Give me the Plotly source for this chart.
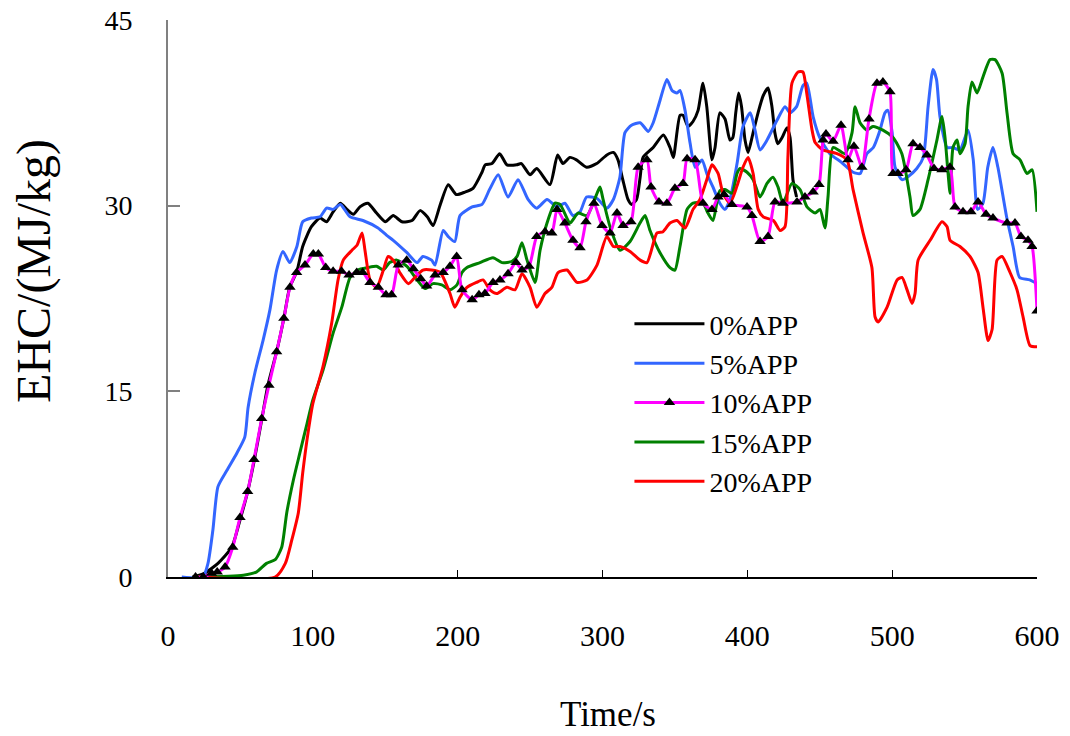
import plotly.graph_objects as go

# EHC curves, (time s, EHC MJ/kg)
app0 = [(17, 0), (25, 0.3), (34.5, 1.1), (44, 2.4), (49.7, 4.6), (55, 6.9), (59.5, 9.4), (64.7, 12.7),
        (69, 15.5), (75, 18.2), (80, 20.9), (84, 23.4), (89, 24.7), (93, 26.7), (99, 28.3), (105, 29),
        (109.5, 28.7), (114, 29.5), (119, 30.2), (123.5, 29.7), (128, 29.3), (132.5, 29.9), (138, 30.2),
        (144, 29.4), (150, 28.7), (155.5, 29.2), (161.5, 28.7), (168.5, 28.8), (174, 29.6), (179, 29.1),
        (183, 28.4), (188, 30.1), (193.5, 31.7), (199, 30.9), (205, 31.1), (210.6, 31.4), (216.8, 32.7),
        (219, 33.3), (223.7, 33.4), (229, 34.2), (234, 33.3), (240.8, 33.3), (244, 33.4), (250, 32.5),
        (254.6, 33), (263.7, 31.7), (269, 34.1), (272.7, 33.4), (277.5, 33.9), (282, 33.7), (289, 33.1),
        (296, 33.4), (303, 34.1), (307.5, 34.3), (310.7, 33.7), (314, 32.1), (317.6, 30.5), (320, 30.1),
        (323.5, 30.5), (326, 32.3), (328, 33.9), (335, 34.7), (342, 35.7), (346.6, 34.7), (348.9, 33.9),
        (353.5, 37.3), (355.6, 37.3), (359, 36.4), (362.5, 36.8), (366, 37.7), (369.4, 39.9), (372, 38),
        (375.6, 33.7), (377.7, 34.7), (381, 37.5), (384.6, 37.0), (388, 35.3), (390, 35.5), (392, 37.5),
        (394, 39.1), (396, 38), (398.4, 35.3), (400.5, 34.3), (404, 35.9), (407.4, 37.5), (411, 38.9),
        (414.3, 39.5), (417, 38), (419, 35.9), (421, 35), (424, 35.5), (427.4, 36.3), (429.5, 35.5),
        (431.5, 32.1), (434, 30.7)]

app5 = [(9.5, 0), (24, 0), (27.6, 1.1), (31, 3.8), (34.5, 7.3), (40.6, 8.6), (47.5, 10), (53, 11.3),
        (55.3, 13.7), (60, 16.5), (65.6, 19.1), (70.4, 21.6), (75, 24.8), (79.4, 26.3), (84, 25.4),
        (89, 26.7), (93, 28.7), (99, 29), (105, 29.1), (109.5, 29.8), (114, 29.7), (119, 30.1),
        (125.7, 29.1), (134.6, 28.8), (145, 28.2), (151, 27.6), (155.5, 27.2), (165, 26.2), (172, 25.4),
        (176, 25.9), (182, 25.6), (184.4, 25.2), (190, 28), (193.5, 27.5), (198, 27.1), (201.6, 29.2),
        (210, 29.9), (216.8, 30.1), (222, 31.3), (228, 32.5), (234.8, 30.7), (241.7, 32.1), (248.6, 30.5),
        (254.6, 29.8), (261.7, 30.5), (268.6, 29.9), (274, 30.2), (279.6, 29.2), (284.5, 29.5), (289, 30.7),
        (296, 30.6), (303, 29.8), (307.5, 30.5), (312, 32.3), (315.5, 35.9), (320, 36.5), (326, 36.7),
        (331.6, 36), (335, 36.7), (339.7, 38.5), (344.5, 40.2), (348, 39.3), (351.4, 39.1), (353.5, 39.3),
        (357, 37.7), (360.4, 35.1), (364, 33.1), (368.7, 33.7), (372, 32.6), (376.3, 31.5), (381, 30.2),
        (384.6, 29.7), (388, 30.5), (392.9, 33.4), (397, 36.4), (402, 37.5), (405.3, 36.1), (408.8, 34.5),
        (413.6, 35.3), (420.5, 36.9), (426, 38), (429.5, 37.5), (434, 38), (438.4, 39.7), (441, 39.9),
        (445.4, 37.2), (450, 35.5), (457, 34.2), (465, 33.5), (473, 32.7), (478, 32.6), (482.5, 34.2),
        (487, 34.7), (491.6, 36.1), (495, 37.5), (497, 37.7), (500, 35.9), (502, 33.1), (506.8, 32.1),
        (510.5, 32.3), (517, 33), (521.5, 33.9), (524.8, 38), (528.2, 41), (530.6, 40.2), (533, 37.2),
        (537.9, 34.7), (542, 34.7), (546.8, 34.5), (552.4, 36.1), (556, 33.7), (559, 29.7), (562.7, 30.2),
        (566, 33.1), (569.6, 34.7), (573, 33.1), (579, 29.1), (583.5, 26.7), (588, 24.2), (595, 24),
        (600, 23.7)]

app10 = [(19, 0), (24.4, 0), (30, 0.3), (34, 0.4), (39.4, 0.8), (44.7, 2.4), (49.7, 4.8), (55, 6.9),
         (59.4, 9.5), (64.7, 12.8), (69.7, 15.5), (75, 18.2), (80, 20.9), (84.2, 23.4), (88.8, 24.6),
         (94.6, 25.2), (100.3, 26.1), (103.8, 26.1), (108.9, 25), (114, 24.7), (119.8, 24.7), (125, 24.4),
         (130.3, 24.6), (134.4, 24.6), (139.5, 23.8), (145.2, 23.4), (150.5, 22.8), (154.4, 22.8),
         (159, 25.2), (164.8, 25.6), (169.4, 24.9), (174.5, 24.1), (178.6, 23.5), (184.4, 24.4), (190, 24.6),
         (194.7, 25.1), (199.3, 25.9), (203, 23.2), (210, 22.4), (214.7, 22.8), (218.8, 22.9), (224.4, 23.8),
         (229.2, 24), (234.8, 24.5), (240.3, 25.4), (244.4, 24.8), (249.3, 25.1), (254.6, 27.5),
         (260.3, 27.9), (265, 27.8), (268.6, 29.7), (274, 28.6), (279.6, 27.2), (284.5, 26.6), (288.6, 28.7),
         (294.1, 30.2), (299.7, 28.4), (305.2, 27.8), (310, 29.4), (314.2, 28.4), (319.7, 28.7),
         (324.6, 33.1), (330.7, 33.7), (333.5, 31.5), (339, 30.3), (344.5, 30.2), (350, 31.4), (355.6, 31.8),
         (358.4, 33.8), (363.9, 33.7), (369.4, 30.2), (375.6, 29.7), (379.8, 30.7), (383.9, 30.9),
         (389.4, 30.1), (399.8, 29.9), (403.2, 29.2), (408.8, 27.1), (414.3, 27.5), (419.1, 30.3),
         (424.6, 30.2), (434.3, 30.3), (439.8, 30.7), (445.4, 31.1), (449.5, 31.7), (452.3, 35.3),
         (454.3, 35.8), (459.2, 35.2), (464.7, 36.5), (469.5, 33.7), (473.6, 34.8), (479.1, 33.1), (484, 37),
         (489.5, 39.9), (493.6, 40), (498.5, 39.2), (500.6, 32.6), (504, 32.6), (509.6, 32.9), (514.4, 35),
         (519.2, 34.7), (524, 34.1), (528.9, 33), (534.4, 32.9), (539.9, 33.1), (543.4, 29.9), (548.9, 29.5),
         (554.4, 29.5), (559.3, 30.3), (564.8, 29.3), (569.6, 29), (579.3, 28.6), (584.8, 28.6),
         (588.9, 27.5), (593.8, 27.2), (596.6, 26.7), (600, 21.5)]

app15 = [(20, 0), (52, 0.15), (61, 0.4), (68, 1.1), (74, 1.4), (78.5, 2.4), (82, 5.2), (86.5, 7.8), (91, 10),
         (96, 12.4), (100, 14.3), (107, 16.7), (114, 19.7), (120, 21.8), (125.7, 24.2), (131, 24.8), (138, 25),
         (144, 25.1), (148.7, 24.8), (153, 25.4), (158, 25.6), (165, 25.1), (172, 24), (177.5, 23.3),
         (183, 23.7), (189, 23.6), (194.7, 23.2), (199.5, 23.6), (203, 24.6), (206.4, 25), (215.4, 25.4),
         (224.4, 25.8), (230.6, 25.4), (237.5, 25.5), (241, 25.9), (244.4, 27), (247.9, 25.6), (253.4, 23.8),
         (256.9, 26.4), (261.7, 28.6), (267.2, 30.2), (270.7, 30.1), (277.6, 28.6), (283.1, 29.4),
         (289.3, 29.2), (296.2, 31), (298.3, 31.5), (300.4, 30.5), (305.2, 28.3), (312.1, 26.4), (319, 27.1),
         (325.9, 28.6), (329.4, 29.2), (332.8, 28), (339.7, 26.2), (346.6, 25), (350, 24.8), (353.5, 26.7),
         (358.4, 29.7), (362.5, 30.2), (369.4, 30.2), (372.8, 29.4), (376.3, 28.8), (381, 31.2),
         (384.6, 31.3), (389.4, 31), (392.9, 32.6), (395, 33), (399.8, 32.7), (404, 32.1), (408.8, 30.7),
         (413.6, 31.8), (417.7, 32.3), (421.2, 31.5), (424.6, 30.2), (430.8, 31.8), (436.4, 31.3),
         (441.2, 29.9), (446.8, 29.4), (450.2, 29.7), (453.6, 28.2), (455.7, 30.7), (459.2, 34.7),
         (467.4, 34.2), (472.3, 35.9), (474.4, 38), (477.8, 36.7), (482.5, 36.1), (486.7, 36.4),
         (493.6, 36.1), (500.6, 35.5), (506.7, 34.2), (512.3, 30.7), (514.4, 29.2), (519.2, 29.7),
         (524.8, 32.1), (530.9, 35.3), (534.4, 37.2), (536.5, 35.5), (538.6, 32.6), (540, 31), (542, 34.7),
         (544.8, 35.3), (546.8, 34.2), (550.3, 35), (552.4, 38), (555.1, 40), (558.6, 39.1), (562.7, 40.4),
         (567.6, 41.8), (571, 41.8), (575.9, 40.7), (579.3, 37.5), (583.5, 34.2), (588.3, 33.7),
         (593.1, 32.6), (596.6, 32.9), (600, 29.5)]

app20 = [(20, 0), (74, 0), (81, 1.1), (85.5, 3), (90, 5.2), (93, 8.4), (96, 11.1), (100, 14), (107, 17),
         (113, 20.5), (117.4, 24), (121, 25.6), (127, 26.4), (130.5, 26.8), (134, 27.8), (136, 26.4),
         (139.5, 24), (144, 23.4), (148.7, 24.8), (152, 25.9), (155.5, 25.6), (160, 24.6), (166, 23.7),
         (170.5, 24.2), (176, 24.8), (182, 24.8), (188, 24.6), (194.7, 22.9), (198, 21.8), (201.6, 22.6),
         (206.4, 23.4), (213, 23.8), (217.5, 24), (222.3, 23.2), (227, 22.9), (234, 23.4), (239.6, 23.2),
         (244.4, 24.5), (250, 23.4), (254.6, 21.8), (260.3, 22.9), (265, 23.4), (269.3, 24.6), (275.5, 24.8),
         (282.4, 23.8), (289.3, 24), (296.2, 25.2), (303, 27.5), (307.5, 26.7), (312, 26.7), (319, 26.3),
         (326, 25.6), (330.7, 25.4), (337.6, 27.8), (341.8, 27.9), (346.6, 28.6), (351.4, 28.8), (357, 28.2),
         (362.5, 29.7), (367.3, 30.5), (372, 32.1), (375.6, 33.3), (379.8, 32.6), (383.2, 31), (388, 30.2),
         (392.9, 31.6), (397, 33.1), (400.5, 33.9), (404, 32.6), (407.5, 29.7), (411, 29.1), (418, 28.8),
         (422.6, 28), (426, 28.3), (428, 33.9), (430.8, 39.9), (435, 40.8), (438.4, 40.8), (441, 39.1),
         (444.7, 36.1), (446.8, 35.1), (452.3, 34.5), (461.9, 34.2), (468.8, 33.7), (473, 31.3),
         (479.9, 27.8), (486, 25), (488.2, 21), (490.3, 20.6), (496.5, 21.8), (503.4, 24), (506.8, 24.2),
         (510.3, 23.2), (513.7, 22.1), (515.8, 22.9), (517.9, 25.6), (526.2, 27.2), (534.4, 28.7),
         (537.9, 28.3), (540, 27.2), (546.8, 26.7), (553.7, 25.9), (559.3, 24.6), (562.7, 21.8),
         (566.2, 19.1), (569, 20), (572.4, 25.6), (575.9, 25.9), (581.4, 24.6), (586.2, 23.2), (590.4, 21),
         (595.2, 18.7), (600, 18.6)]

names = ["0%APP", "5%APP", "10%APP", "15%APP", "20%APP"]
colors = ["#000000", "#3366FF", "#FF00FF", "#008000", "#FF0000"]
series = [app0, app5, app10, app15, app20]
x_ticks = [0, 100, 200, 300, 400, 500, 600]
y_ticks = [0, 15, 30, 45]

FONT = "Liberation Serif"

fig = go.Figure()
# draw order: black, blue, green, red, then magenta with triangles on top
for i in [0, 1, 3, 4, 2]:
    pts = series[i]
    xs = [p[0] for p in pts]
    ys = [p[1] for p in pts]
    if i == 2:
        fig.add_trace(go.Scatter(
            x=xs, y=ys, name=names[i], mode="lines+markers", legendrank=i,
            line=dict(color=colors[i], width=3, shape="spline", smoothing=0.6),
            marker=dict(symbol="triangle-up", size=10, color="black"),
        ))
    else:
        fig.add_trace(go.Scatter(
            x=xs, y=ys, name=names[i], mode="lines", legendrank=i,
            line=dict(color=colors[i], width=3, shape="spline", smoothing=0.6),
        ))

fig.update_layout(
    width=1070, height=736,
    margin=dict(l=168, r=33, t=20, b=159),
    paper_bgcolor="white", plot_bgcolor="white",
    font=dict(family=FONT, color="black"),
    showlegend=True,
    legend=dict(x=0.531, y=0.499, xanchor="left", yanchor="top",
                bgcolor="rgba(0,0,0,0)", font=dict(family=FONT, size=28),
                itemwidth=70, tracegroupgap=0),
    xaxis=dict(range=[0, 600], tickvals=x_ticks, ticks="inside", ticklen=7,
               tickcolor="black", tickwidth=1, showline=True, linecolor="black",
               linewidth=2, showgrid=False, zeroline=False, automargin=False,
               tickfont=dict(family=FONT, size=30), ticklabelstandoff=31),
    yaxis=dict(range=[0, 45], tickvals=y_ticks, ticks="inside", ticklen=12,
               tickcolor="#808080", tickwidth=2, showline=True, linecolor="#808080",
               linewidth=2, showgrid=False, zeroline=False, automargin=False,
               tickfont=dict(family=FONT, size=28), ticklabelstandoff=28),
    annotations=[
        dict(text="EHC/(MJ/kg)", x=-0.155, y=0.55, xref="paper", yref="paper",
             xanchor="center", yanchor="middle", textangle=-90, showarrow=False,
             font=dict(family=FONT, size=48)),
        dict(text="Time/s", x=0.506, y=-0.246, xref="paper", yref="paper",
             xanchor="center", yanchor="middle", showarrow=False,
             font=dict(family=FONT, size=35)),
    ],
)

# page body margin would shift the 1070x736 figure; remove it
fig.write_html("out.html", config={"displayModeBar": False},
               post_script="document.body.style.margin='0';")
